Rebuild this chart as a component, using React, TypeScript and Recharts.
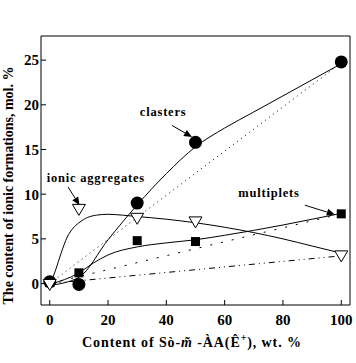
import React from 'react';
import {
  ComposedChart,
  Line,
  Scatter,
  XAxis,
  YAxis,
  ReferenceLine,
  ReferenceDot,
  Label,
} from 'recharts';

const FONT = '"Liberation Serif", "Times New Roman", serif';

const xTicks = [0, 20, 40, 60, 80, 100];
const yTicks = [0, 5, 10, 15, 20, 25];

// measured points
const clasterPts = [
  { x: 0, y: 0.2 },
  { x: 10, y: -0.1 },
  { x: 30, y: 9.0 },
  { x: 50, y: 15.8 },
  { x: 100, y: 24.8 },
];
const multipletPts = [
  { x: 0, y: 0.1 },
  { x: 10, y: 1.2 },
  { x: 30, y: 4.8 },
  { x: 50, y: 4.7 },
  { x: 100, y: 7.8 },
];
const aggregatePts = [
  { x: 0, y: -0.1 },
  { x: 10, y: 8.3 },
  { x: 30, y: 7.3 },
  { x: 50, y: 6.9 },
  { x: 100, y: 3.1 },
];

// fitted solid curves
const clasterFit = [
  { x: 0, y: -0.2 }, { x: 10, y: 0.7 }, { x: 20, y: 4.9 }, { x: 30, y: 8.8 },
  { x: 40, y: 12.3 }, { x: 50, y: 15.3 }, { x: 60, y: 17.4 }, { x: 70, y: 19.2 },
  { x: 80, y: 21.0 }, { x: 90, y: 22.8 }, { x: 100, y: 24.6 },
];
const multipletFit = [
  { x: 0, y: -0.1 }, { x: 10, y: 1.2 }, { x: 15, y: 2.3 }, { x: 20, y: 3.2 },
  { x: 30, y: 4.1 }, { x: 40, y: 4.55 }, { x: 50, y: 4.9 }, { x: 60, y: 5.4 },
  { x: 70, y: 5.95 }, { x: 80, y: 6.55 }, { x: 90, y: 7.2 }, { x: 100, y: 7.85 },
];
const aggregateFit = [
  { x: 0, y: -0.2 }, { x: 2, y: 1.5 }, { x: 4, y: 3.5 }, { x: 6, y: 5.2 },
  { x: 8, y: 6.2 }, { x: 10, y: 6.8 }, { x: 13, y: 7.4 }, { x: 16, y: 7.65 },
  { x: 20, y: 7.75 }, { x: 25, y: 7.65 }, { x: 30, y: 7.5 }, { x: 40, y: 7.2 },
  { x: 50, y: 6.8 }, { x: 60, y: 6.3 }, { x: 70, y: 5.7 }, { x: 80, y: 5.0 },
  { x: 90, y: 4.2 }, { x: 100, y: 3.4 },
];

// straight reference lines
const clasterLin = [{ x: 0, y: 0 }, { x: 100, y: 24.7 }];
const multipletLin = [{ x: 0, y: 0 }, { x: 100, y: 7.8 }];
const aggregateLin = [{ x: 0, y: 0 }, { x: 100, y: 3.1 }];

const annotations = [
  { text: 'clasters', tx: 38.9, ty: 19.2, from: { x: 41.9, y: 17.7 }, to: { x: 48.8, y: 16.4 } },
  { text: 'ionic aggregates', tx: 15.8, ty: 11.9, from: { x: 6.3, y: 10.8 }, to: { x: 10.2, y: 8.77 } },
  { text: 'multiplets', tx: 75.2, ty: 10.2, from: { x: 87.5, y: 8.77 }, to: { x: 97.8, y: 7.73 } },
];

const Circle = (p: any) => <circle cx={p.cx} cy={p.cy} r={6.5} fill="#000" />;
const Square = (p: any) => (
  <rect x={p.cx - 4.5} y={p.cy - 4.5} width={9} height={9} fill="#000" />
);
const Tri = (p: any) => (
  <polygon
    points={`${p.cx - 6.5},${p.cy - 5} ${p.cx + 6.5},${p.cy - 5} ${p.cx},${p.cy + 6}`}
    fill="#fff"
    stroke="#000"
    strokeWidth={1}
  />
);

const Arrow = (p: any) => {
  const { x1, y1, x2, y2 } = p;
  const a = Math.atan2(y2 - y1, x2 - x1);
  const L = 8;
  const W = 3.5;
  const bx = x2 - L * Math.cos(a);
  const by = y2 - L * Math.sin(a);
  const nx = -Math.sin(a) * W;
  const ny = Math.cos(a) * W;
  return (
    <g>
      <line x1={x1} y1={y1} x2={bx} y2={by} stroke="#000" strokeWidth={1} />
      <polygon points={`${x2},${y2} ${bx + nx},${by + ny} ${bx - nx},${by - ny}`} fill="#000" />
    </g>
  );
};

const tickStyle = { fontFamily: FONT, fontWeight: 'bold', fontSize: 15, fill: '#000' };

export default function App() {
  return (
    <div style={{ width: 356, height: 363, background: '#fff' }}>
      <style>{'body{margin:0;background:#fff}'}</style>
      <ComposedChart
        width={356}
        height={363}
        margin={{ top: 35, right: 5, bottom: 57, left: 40 }}
      >
        <XAxis
          type="number"
          dataKey="x"
          domain={[-3, 103]}
          ticks={xTicks}
          allowDataOverflow
          height={1}
          tickSize={-5}
          tickMargin={14}
          tick={tickStyle}
          axisLine={{ stroke: '#000' }}
          tickLine={{ stroke: '#000' }}
        >
          <Label
            content={() => (
              <text
                x={192}
                y={347}
                textAnchor="middle"
                fontFamily={FONT}
                fontWeight="bold"
                fontSize={14}
                letterSpacing={0.9}
                fill="#000"
              >
                Content of Sò-<tspan fontStyle="italic">m̃</tspan> -ÀA(Ê
                <tspan dy={-6} fontSize={10}>+</tspan>
                <tspan dy={6}>),  wt. %</tspan>
              </text>
            )}
          />
        </XAxis>
        <XAxis
          xAxisId="top"
          orientation="top"
          type="number"
          domain={[-3, 103]}
          height={1}
          tick={false}
          tickLine={false}
          axisLine={{ stroke: '#000' }}
        />
        <YAxis
          type="number"
          dataKey="y"
          domain={[-2.4, 27.7]}
          ticks={yTicks}
          allowDataOverflow
          width={1}
          tickSize={-5}
          tickMargin={7}
          tick={tickStyle}
          axisLine={{ stroke: '#000' }}
          tickLine={{ stroke: '#000' }}
        >
          <Label
            content={(lp: any) => {
              const vb = lp.viewBox;
              const cy = vb.y + vb.height / 2 + 15;
              return (
                <text
                  x={13}
                  y={cy}
                  transform={`rotate(-90 13 ${cy})`}
                  textAnchor="middle"
                  fontFamily={FONT}
                  fontWeight="bold"
                  fontSize={14}
                  fill="#000"
                >
                  The content of ionic formations, mol. %
                </text>
              );
            }}
          />
        </YAxis>
        <YAxis
          yAxisId="right"
          orientation="right"
          type="number"
          domain={[0, 1]}
          width={1}
          tick={false}
          tickLine={false}
          axisLine={{ stroke: '#000' }}
        />

        <Line data={clasterLin} dataKey="y" type="linear" stroke="#000" strokeWidth={1} strokeDasharray="1 4" dot={false} isAnimationActive={false} />
        <Line data={multipletLin} dataKey="y" type="linear" stroke="#000" strokeWidth={1} strokeDasharray="2 9" dot={false} isAnimationActive={false} />
        <Line data={aggregateLin} dataKey="y" type="linear" stroke="#000" strokeWidth={1} strokeDasharray="6 4 1 4 1 4" dot={false} isAnimationActive={false} />

        <Line data={clasterFit} dataKey="y" type="monotone" stroke="#000" strokeWidth={1} dot={false} isAnimationActive={false} />
        <Line data={multipletFit} dataKey="y" type="monotone" stroke="#000" strokeWidth={1} dot={false} isAnimationActive={false} />
        <Line data={aggregateFit} dataKey="y" type="monotone" stroke="#000" strokeWidth={1} dot={false} isAnimationActive={false} />

        <Scatter data={clasterPts} dataKey="y" shape={Circle} isAnimationActive={false} />
        <Scatter data={multipletPts} dataKey="y" shape={Square} isAnimationActive={false} />
        <Scatter data={aggregatePts} dataKey="y" shape={Tri} isAnimationActive={false} />

        {annotations.map((a) => (
          <ReferenceLine key={'l' + a.text} segment={[a.from, a.to]} shape={Arrow} ifOverflow="visible" />
        ))}
        {annotations.map((a) => (
          <ReferenceDot
            key={'t' + a.text}
            x={a.tx}
            y={a.ty}
            ifOverflow="visible"
            shape={(p: any) => (
              <text
                x={p.cx}
                y={p.cy}
                dy="0.35em"
                textAnchor="middle"
                fontFamily={FONT}
                fontWeight="bold"
                fontSize={12.5}
                letterSpacing={0.8}
                fill="#000"
              >
                {a.text}
              </text>
            )}
          />
        ))}
      </ComposedChart>
    </div>
  );
}
